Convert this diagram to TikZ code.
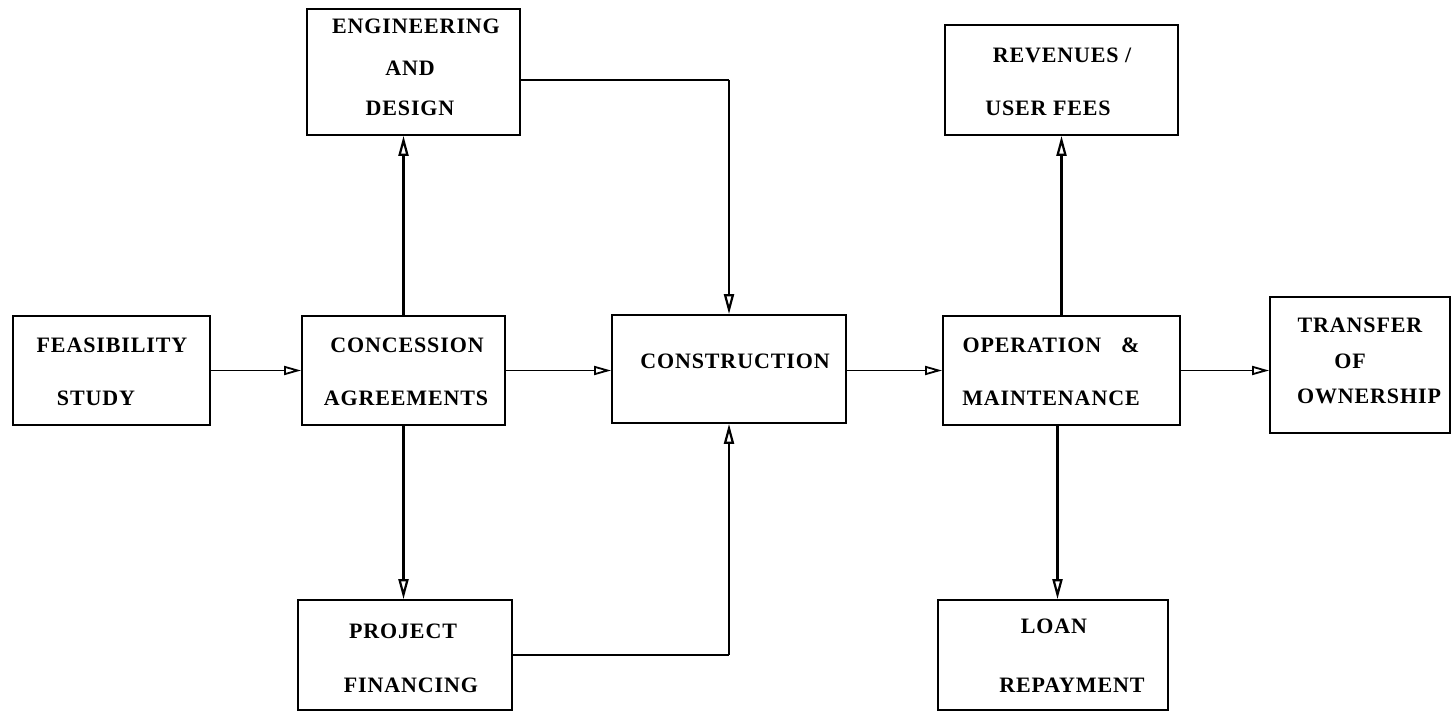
\documentclass[tikz,border=0pt]{standalone}
\usepackage{fontspec}
\setmainfont{Liberation Serif}
\usetikzlibrary{arrows.meta,calc}
\begin{document}
\begin{tikzpicture}[x=1pt,y=-1pt,
  box/.style={draw,line width=1.8pt,rectangle,inner sep=0pt},
  lbl/.style={anchor=base,inner sep=0pt,font=\fontsize{22}{26}\selectfont\bfseries\addfontfeature{LetterSpace=4}},
  hconn/.style={line width=1.6pt,-{Triangle[open,length=17pt,width=9pt,line width=1.8pt]}},
  vconn/.style={line width=2.8pt,-{Triangle[open,length=20pt,width=10pt,line width=2.2pt]}}]
\useasboundingbox (0,0) rectangle (1453,712);
% boxes
\node[box,minimum width=197pt,minimum height=109pt] (feas) at (111.5,370.5) {};
\node[box,minimum width=203pt,minimum height=109pt] (conc) at (403.5,370.5) {};
\node[box,minimum width=213pt,minimum height=126pt] (eng) at (413.5,72) {};
\node[box,minimum width=234pt,minimum height=108pt] (cons) at (729,369) {};
\node[box,minimum width=237pt,minimum height=109pt] (oper) at (1061.5,370.5) {};
\node[box,minimum width=180pt,minimum height=136pt] (trans) at (1360,365) {};
\node[box,minimum width=233pt,minimum height=110pt] (rev) at (1061.5,80) {};
\node[box,minimum width=214pt,minimum height=110pt] (proj) at (405,655) {};
\node[box,minimum width=230pt,minimum height=110pt] (loan) at (1053,655) {};
% labels
\node[lbl] (t1) at (112,352) {FEASIBILITY};
\node[lbl] (t2) at (96,405) {STUDY};
\node[lbl] (t3) at (407,352) {CONCESSION};
\node[lbl] (t4) at (406,405) {AGREEMENTS};
\node[lbl] (t5) at (416,33) {ENGINEERING};
\node[lbl] (t6) at (410,75) {AND};
\node[lbl] (t7) at (410,115) {DESIGN};
\node[lbl] (t8) at (735,368) {CONSTRUCTION};
\node[lbl] (t9) at (1051,352) {OPERATION\hspace{0.9em}\&};
\node[lbl] (t10) at (1051,405) {MAINTENANCE};
\node[lbl] (t11) at (1360,332) {TRANSFER};
\node[lbl] (t12) at (1350,368) {OF};
\node[lbl] (t13) at (1369,403) {OWNERSHIP};
\node[lbl] (t14) at (1062,62) {REVENUES /};
\node[lbl] (t15) at (1048,115) {USER FEES};
\node[lbl] (t16) at (403,638) {PROJECT};
\node[lbl] (t17) at (411,692) {FINANCING};
\node[lbl] (t18) at (1054,633) {LOAN};
\node[lbl] (t19) at (1072,692) {REPAYMENT};
% connectors
\draw[hconn] (feas.east) -- (conc.west);
\draw[hconn] (conc.east) -- (conc.east -| cons.west);
\draw[hconn] (cons.east |- oper.west) -- (oper.west);
\draw[hconn] (oper.east) -- (oper.east -| trans.west);
\draw[vconn] (conc.north) -- (conc.north |- eng.south);
\draw[vconn] (conc.south) -- (conc.south |- proj.north);
\draw[line width=1.6pt] ([yshift=-8pt]eng.east) -- ([yshift=-8pt]eng.east -| cons.north) coordinate (c1);
\draw[vconn] (c1) -- (cons.north);
\draw[line width=1.6pt] (proj.east) -- (proj.east -| cons.south) coordinate (c2);
\draw[vconn] (c2) -- (cons.south);
\draw[vconn] (oper.north) -- (oper.north |- rev.south);
\draw[vconn] ([xshift=-4pt]oper.south) -- ([xshift=-4pt]oper.south |- loan.north);
\end{tikzpicture}
\end{document}
